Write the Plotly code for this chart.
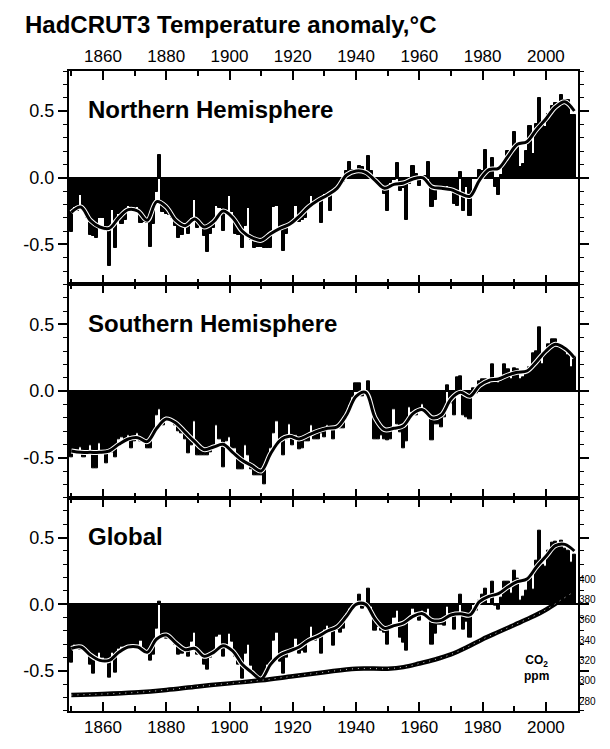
import plotly.graph_objects as go

years = list(range(1850, 2010))

nh = [
    -0.41, -0.22, -0.25, -0.13, -0.22, -0.30, -0.43, -0.44, -0.45, -0.30,
    -0.30, -0.40, -0.66, -0.24, -0.53, -0.27, -0.35, -0.32, -0.21, -0.22,
    -0.25, -0.22, -0.34, -0.33, -0.34, -0.52, -0.35, -0.11, 0.17, -0.26,
    -0.27, -0.28, -0.30, -0.36, -0.45, -0.43, -0.34, -0.42, -0.30, -0.17,
    -0.38, -0.35, -0.44, -0.56, -0.42, -0.38, -0.21, -0.23, -0.40, -0.26,
    -0.14, -0.26, -0.42, -0.43, -0.53, -0.36, -0.23, -0.47, -0.53, -0.52,
    -0.52, -0.53, -0.53, -0.53, -0.22, -0.21, -0.40, -0.55, -0.42, -0.36,
    -0.33, -0.21, -0.33, -0.32, -0.30, -0.21, -0.14, -0.20, -0.19, -0.34,
    -0.12, -0.12, -0.25, -0.09, -0.08, -0.06, -0.03, 0.05, 0.12, 0.06,
    0.05, 0.09, 0.08, 0.05, 0.16, 0.05, -0.02, -0.05, -0.06, -0.12,
    -0.25, -0.04, -0.02, 0.11, -0.10, -0.08, -0.32, -0.05, 0.09, 0.03,
    -0.06, 0.00, 0.01, 0.12, -0.22, -0.17, -0.08, -0.07, -0.09, -0.06,
    -0.08, -0.20, -0.21, 0.04, -0.25, -0.07, -0.29, 0.00, -0.01, 0.06,
    0.05, 0.21, 0.06, 0.15, -0.07, -0.13, 0.02, 0.11, 0.20, 0.20,
    0.34, 0.25, 0.08, 0.10, 0.20, 0.39, 0.18, 0.40, 0.60, 0.40,
    0.38, 0.48, 0.54, 0.56, 0.56, 0.62, 0.58, 0.58, 0.47, 0.47,
]

sh = [
    -0.50, -0.46, -0.46, -0.42, -0.50, -0.47, -0.41, -0.58, -0.58, -0.39,
    -0.46, -0.54, -0.44, -0.46, -0.50, -0.36, -0.35, -0.38, -0.33, -0.43,
    -0.38, -0.32, -0.38, -0.37, -0.43, -0.43, -0.32, -0.18, -0.14, -0.26,
    -0.20, -0.21, -0.23, -0.26, -0.30, -0.32, -0.36, -0.47, -0.41, -0.23,
    -0.48, -0.48, -0.48, -0.48, -0.46, -0.43, -0.26, -0.36, -0.57, -0.38,
    -0.35, -0.43, -0.43, -0.59, -0.59, -0.41, -0.48, -0.59, -0.63, -0.63,
    -0.63, -0.70, -0.51, -0.43, -0.32, -0.23, -0.38, -0.48, -0.36, -0.25,
    -0.41, -0.33, -0.44, -0.43, -0.38, -0.38, -0.26, -0.36, -0.36, -0.32,
    -0.35, -0.26, -0.27, -0.36, -0.28, -0.28, -0.28, -0.18, -0.11, -0.05,
    0.06, 0.06, -0.04, -0.01, 0.07, -0.12, -0.36, -0.36, -0.33, -0.36,
    -0.37, -0.36, -0.14, -0.25, -0.31, -0.43, -0.38, -0.12, -0.16, -0.18,
    -0.14, -0.10, -0.15, -0.18, -0.37, -0.25, -0.25, -0.27, -0.20, 0.04,
    -0.09, -0.18, 0.10, 0.11, -0.18, -0.20, -0.21, 0.02, -0.02, 0.07,
    0.09, 0.09, 0.05, 0.20, 0.07, 0.06, 0.07, 0.20, 0.16, 0.09,
    0.17, 0.16, 0.09, 0.10, 0.15, 0.18, 0.28, 0.30, 0.48, 0.20,
    0.27, 0.35, 0.39, 0.39, 0.35, 0.33, 0.31, 0.27, 0.18, 0.26,
]

gl = [
    -0.44, -0.30, -0.31, -0.34, -0.32, -0.36, -0.45, -0.52, -0.42, -0.36,
    -0.40, -0.43, -0.55, -0.36, -0.51, -0.33, -0.32, -0.34, -0.32, -0.30,
    -0.31, -0.33, -0.27, -0.33, -0.36, -0.42, -0.38, -0.18, 0.02, -0.25,
    -0.26, -0.24, -0.26, -0.30, -0.38, -0.37, -0.33, -0.39, -0.28, -0.21,
    -0.38, -0.36, -0.45, -0.49, -0.40, -0.37, -0.24, -0.23, -0.39, -0.30,
    -0.22, -0.28, -0.39, -0.45, -0.56, -0.37, -0.30, -0.46, -0.53, -0.55,
    -0.55, -0.56, -0.45, -0.46, -0.27, -0.21, -0.43, -0.52, -0.40, -0.34,
    -0.33, -0.26, -0.37, -0.35, -0.36, -0.28, -0.17, -0.27, -0.26, -0.37,
    -0.19, -0.16, -0.20, -0.31, -0.19, -0.21, -0.18, -0.07, -0.03, -0.03,
    0.00, 0.07, -0.03, -0.02, 0.12, -0.02, -0.20, -0.17, -0.20, -0.21,
    -0.30, -0.18, -0.10, -0.05, -0.25, -0.29, -0.35, -0.09, -0.03, -0.06,
    -0.12, -0.05, -0.06, -0.03, -0.30, -0.22, -0.15, -0.15, -0.16, -0.02,
    -0.07, -0.19, -0.07, 0.07, -0.19, -0.13, -0.25, 0.00, -0.05, 0.03,
    0.07, 0.12, 0.00, 0.17, -0.01, -0.04, 0.05, 0.17, 0.17, 0.08,
    0.25, 0.19, 0.03, 0.06, 0.10, 0.21, 0.11, 0.33, 0.55, 0.30,
    0.28, 0.40, 0.46, 0.47, 0.45, 0.48, 0.42, 0.40, 0.31, 0.37,
]

smooth_years = [1850, 1853, 1856, 1859, 1862, 1865, 1868, 1871, 1874, 1877,
                1880, 1883, 1886, 1889, 1892, 1895, 1898, 1901, 1904, 1907,
                1910, 1913, 1916, 1919, 1922, 1925, 1928, 1931, 1934, 1937,
                1940, 1943, 1946, 1949, 1952, 1955, 1958, 1961, 1964, 1967,
                1970, 1973, 1976, 1979, 1982, 1985, 1988, 1991, 1994, 1997,
                2000, 2003, 2006, 2009]

nh_smooth = [-0.26, -0.22, -0.32, -0.37, -0.38, -0.30, -0.24, -0.25, -0.32, -0.18,
             -0.22, -0.32, -0.36, -0.31, -0.37, -0.33, -0.25, -0.30, -0.40, -0.45,
             -0.47, -0.42, -0.38, -0.35, -0.29, -0.22, -0.17, -0.13, -0.08, 0.02,
             0.05, 0.04, -0.02, -0.08, -0.05, -0.04, -0.01, 0.00, -0.07, -0.08,
             -0.09, -0.12, -0.14, -0.02, 0.06, 0.07, 0.16, 0.25, 0.27, 0.36,
             0.44, 0.53, 0.57, 0.50]

sh_smooth = [-0.45, -0.46, -0.46, -0.46, -0.45, -0.40, -0.36, -0.35, -0.38, -0.28,
             -0.21, -0.24, -0.31, -0.38, -0.44, -0.42, -0.40, -0.46, -0.52, -0.56,
             -0.60, -0.47, -0.37, -0.34, -0.36, -0.33, -0.30, -0.28, -0.27, -0.18,
             -0.04, -0.01, -0.20, -0.29, -0.28, -0.26, -0.17, -0.14, -0.20, -0.18,
             -0.06, -0.01, -0.04, 0.04, 0.08, 0.09, 0.12, 0.14, 0.15, 0.22,
             0.30, 0.35, 0.32, 0.25]

gl_smooth = [-0.33, -0.32, -0.38, -0.42, -0.42, -0.36, -0.32, -0.32, -0.36, -0.26,
             -0.23, -0.29, -0.34, -0.33, -0.39, -0.36, -0.31, -0.35, -0.45, -0.51,
             -0.56, -0.45, -0.38, -0.35, -0.32, -0.27, -0.24, -0.20, -0.17, -0.09,
             0.00, 0.00, -0.11, -0.18, -0.16, -0.14, -0.09, -0.07, -0.12, -0.12,
             -0.08, -0.07, -0.08, 0.02, 0.06, 0.08, 0.13, 0.17, 0.19, 0.28,
             0.36, 0.44, 0.45, 0.40]

co2_years = [1850, 1860, 1870, 1880, 1890, 1900, 1910, 1920, 1930, 1940, 1950,
             1955, 1960, 1965, 1970, 1975, 1980, 1985, 1990, 1995, 2000, 2005, 2008]
co2_ppm = [286, 287, 288.5, 291, 294.5, 297.5, 300.5, 304.5, 308.5, 312, 312,
           313.5, 317, 321, 326, 333, 341, 348, 355, 362, 370, 380, 386]

panel_names = ["Northern Hemisphere", "Southern Hemisphere", "Global"]
year_ticks = [1860, 1880, 1900, 1920, 1940, 1960, 1980, 2000]
year_minor = [1850, 1870, 1890, 1910, 1930, 1950, 1970, 1990, 2010]
temp_ticks = [-0.5, 0.0, 0.5]
temp_ticktext = ["-0.5", "0.0", "0.5"]
temp_minor = [-0.8, -0.7, -0.6, -0.4, -0.3, -0.2, -0.1, 0.1, 0.2, 0.3, 0.4, 0.6, 0.7, 0.8]
co2_ticks = [280, 300, 320, 340, 360, 380, 400]

FONT = "Liberation Sans, Arial, sans-serif"

fig = go.Figure()
series = [(nh, nh_smooth), (sh, sh_smooth), (gl, gl_smooth)]
for i, (vals, sm) in enumerate(series):
    xa = "x" if i == 0 else f"x{i+1}"
    ya = "y" if i == 0 else f"y{i+1}"
    fig.add_trace(go.Bar(x=years, y=vals, width=1.0, xaxis=xa, yaxis=ya,
                         marker=dict(color="black", line=dict(color="black", width=1.0)),
                         hoverinfo="skip"))
    fig.add_trace(go.Scatter(x=smooth_years, y=sm, mode="lines", xaxis=xa, yaxis=ya,
                             line=dict(color="white", width=5, shape="spline", smoothing=1.0),
                             hoverinfo="skip"))
    fig.add_trace(go.Scatter(x=smooth_years, y=sm, mode="lines", xaxis=xa, yaxis=ya,
                             line=dict(color="black", width=3, shape="spline", smoothing=1.0),
                             hoverinfo="skip"))

fig.add_trace(go.Scatter(x=co2_years, y=co2_ppm, mode="lines", xaxis="x3", yaxis="y4",
                         line=dict(color="black", width=4.5, shape="spline"), hoverinfo="skip"))
fig.add_trace(go.Scatter(x=co2_years, y=co2_ppm, mode="lines", xaxis="x3", yaxis="y4",
                         line=dict(color="white", width=0.8, dash="1px,5px", shape="spline"),
                         hoverinfo="skip"))

xrange = [1849.27, 2010.15]
domains = [[2/3, 1.0], [1/3, 2/3], [0.0, 1/3]]

layout = dict(
    width=610, height=749,
    margin=dict(l=69, r=32, t=71, b=27),
    paper_bgcolor="white", plot_bgcolor="white",
    showlegend=False, bargap=0, barmode="overlay",
    font=dict(family=FONT, color="black"),
)

for i in range(3):
    xk = "xaxis" if i == 0 else f"xaxis{i+1}"
    yk = "yaxis" if i == 0 else f"yaxis{i+1}"
    ya = "y" if i == 0 else f"y{i+1}"
    xa = "x" if i == 0 else f"x{i+1}"
    layout[xk] = dict(
        domain=[0, 1], anchor=ya, range=xrange,
        side="top" if i == 0 else "bottom",
        showticklabels=(i != 1),
        tickmode="array", tickvals=year_ticks,
        ticks="inside", ticklen=9, tickwidth=1.5, tickcolor="black",
        minor=dict(tickmode="array", tickvals=year_minor, ticks="inside",
                   ticklen=5, tickwidth=1.5, tickcolor="black"),
        mirror="ticks", showline=True, linewidth=2, linecolor="black",
        showgrid=False, zeroline=False,
        tickfont=dict(family=FONT, size=17, color="black"),
    )
    layout[yk] = dict(
        domain=domains[i], anchor=xa, range=[-0.8, 0.8],
        tickmode="array", tickvals=temp_ticks, ticktext=temp_ticktext,
        ticks="outside", ticklen=9, tickwidth=1.5, tickcolor="black",
        minor=dict(tickmode="array", tickvals=temp_minor, ticks="outside",
                   ticklen=4, tickwidth=1.2, tickcolor="black"),
        mirror="ticks", showline=True, linewidth=2, linecolor="black",
        showgrid=False, zeroline=True, zerolinecolor="black", zerolinewidth=2,
        tickfont=dict(family=FONT, size=18, color="black"),
    )

layout["yaxis4"] = dict(
    overlaying="y3", anchor="x3", side="right", range=[270.3, 480.3],
    tickmode="array", tickvals=co2_ticks, ticks="", showline=False,
    showgrid=False, zeroline=False, ticklabelstandoff=0,
    tickfont=dict(family=FONT, size=10, color="black"),
)

annotations = [
    dict(text="<b>HadCRUT3 Temperature anomaly,°C</b>", xref="paper", yref="paper",
         x=-0.09, y=1.072, xanchor="left", yanchor="middle", showarrow=False,
         font=dict(family=FONT, size=24, color="black")),
    dict(text="<b>CO<sub>2</sub><br>ppm</b>", xref="paper", yref="y3",
         x=0.919, y=-0.48, xanchor="center", yanchor="middle", showarrow=False,
         font=dict(family=FONT, size=12, color="black")),
]
for i, name in enumerate(panel_names):
    ya = "y" if i == 0 else f"y{i+1}"
    annotations.append(dict(text=f"<b>{name}</b>", xref="paper", yref=ya,
                            x=0.034, y=0.51, xanchor="left", yanchor="middle",
                            showarrow=False,
                            font=dict(family=FONT, size=24, color="black")))
layout["annotations"] = annotations

fig.update_layout(**layout)
fig.write_html("out.html",
               config={"displayModeBar": False},
               post_script="document.body.style.margin='0px';"
                           "document.body.style.overflow='hidden';")
